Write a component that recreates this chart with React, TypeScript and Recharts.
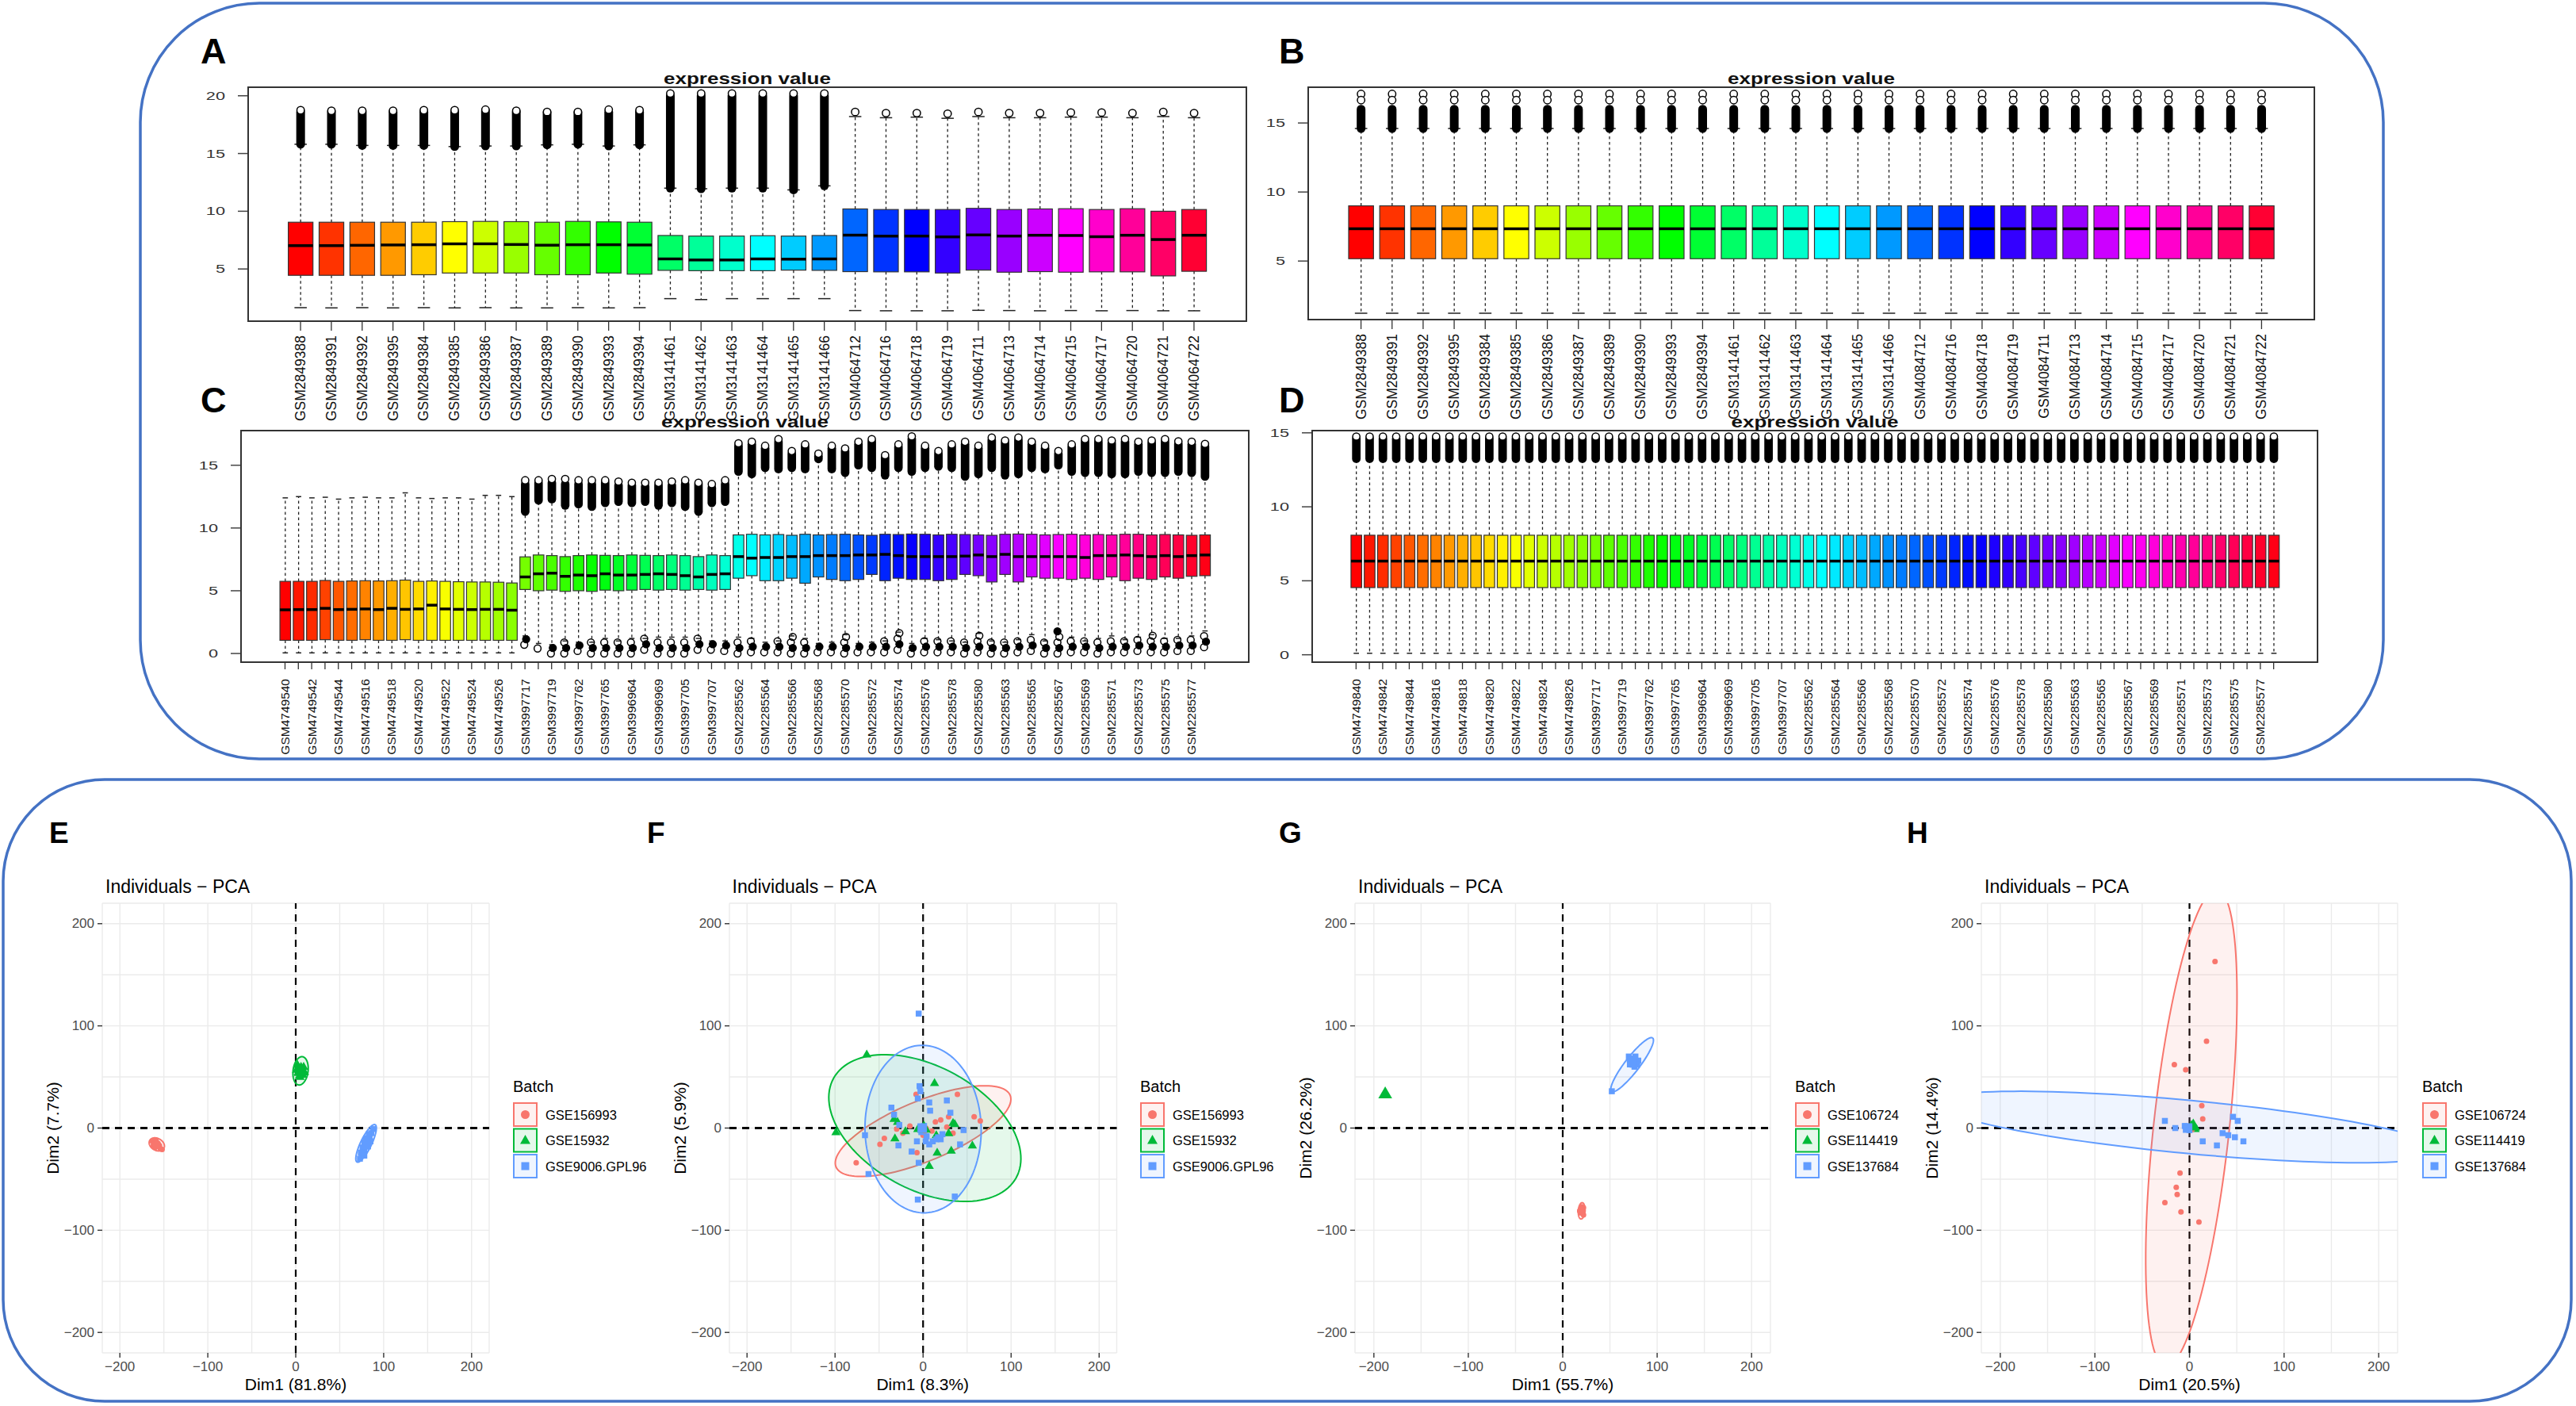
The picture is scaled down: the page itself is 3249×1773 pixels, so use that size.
import React from 'react';
import {
  ComposedChart,
  Bar,
  XAxis,
  YAxis,
  ScatterChart,
  Scatter,
  CartesianGrid,
  ReferenceLine,
} from 'recharts';

const FONT = '"Liberation Sans", Arial, Helvetica, sans-serif';
const BORDER = '#4472C4';
const RED = '#F8766D';
const GREEN = '#00BA38';
const BLUE = '#619CFF';

// ---------------- panel A (raw expression, 30 samples) ----------------
const aNames = [
  'GSM2849388', 'GSM2849391', 'GSM2849392', 'GSM2849395', 'GSM2849384', 'GSM2849385',
  'GSM2849386', 'GSM2849387', 'GSM2849389', 'GSM2849390', 'GSM2849393', 'GSM2849394',
  'GSM3141461', 'GSM3141462', 'GSM3141463', 'GSM3141464', 'GSM3141465', 'GSM3141466',
  'GSM4064712', 'GSM4064716', 'GSM4064718', 'GSM4064719', 'GSM4064711', 'GSM4064713',
  'GSM4064714', 'GSM4064715', 'GSM4064717', 'GSM4064720', 'GSM4064721', 'GSM4064722',
];
const aLo = [1.65, 1.63, 1.65, 1.63, 1.65, 1.63, 1.65, 1.63, 1.63, 1.65, 1.63, 1.65,
  2.43, 2.35, 2.43, 2.43, 2.43, 2.43,
  1.4, 1.38, 1.38, 1.38, 1.42, 1.4, 1.38, 1.4, 1.38, 1.4, 1.38, 1.38];
const aQ1 = [4.45, 4.45, 4.45, 4.45, 4.5, 4.65, 4.65, 4.65, 4.5, 4.5, 4.65, 4.55,
  4.88, 4.85, 4.85, 4.85, 4.9, 4.88,
  4.77, 4.75, 4.75, 4.65, 4.9, 4.72, 4.77, 4.72, 4.75, 4.75, 4.4, 4.8];
const aMed = [7.02, 7.02, 7.05, 7.08, 7.1, 7.18, 7.18, 7.12, 7.06, 7.1, 7.1, 7.08,
  5.87, 5.78, 5.78, 5.87, 5.85, 5.87,
  7.93, 7.85, 7.85, 7.78, 7.95, 7.85, 7.92, 7.9, 7.8, 7.92, 7.55, 7.92];
const aQ3 = [9.05, 9.05, 9.05, 9.05, 9.05, 9.1, 9.12, 9.1, 9.05, 9.12, 9.08, 9.05,
  7.9, 7.85, 7.85, 7.88, 7.85, 7.9,
  10.2, 10.15, 10.15, 10.15, 10.25, 10.15, 10.2, 10.22, 10.15, 10.22, 10.0, 10.15];
const aHi = [15.8, 15.8, 15.7, 15.7, 15.7, 15.6, 15.65, 15.65, 15.75, 15.8, 15.65, 15.75,
  12.0, 11.95, 12.0, 12.0, 11.85, 12.2,
  18.2, 18.1, 18.15, 18.05, 18.2, 18.1, 18.1, 18.15, 18.15, 18.1, 18.2, 18.1];
const aSolid = [18.6, 18.6, 18.6, 18.6, 18.6, 18.6, 18.7, 18.6, 18.55, 18.55, 18.6, 18.6,
  20.0, 20.0, 20.0, 20.0, 20.0, 20.0,
  18.2, 18.1, 18.15, 18.05, 18.2, 18.1, 18.1, 18.15, 18.15, 18.1, 18.2, 18.1];
const aTop = [18.75, 18.7, 18.7, 18.7, 18.75, 18.75, 18.8, 18.7, 18.6, 18.6, 18.8, 18.75,
  20.2, 20.2, 20.2, 20.2, 20.2, 20.2,
  18.6, 18.5, 18.5, 18.45, 18.6, 18.5, 18.5, 18.55, 18.55, 18.5, 18.6, 18.5];

// ---------------- panel B (normalised, every sample identical) ----------------
const bNames = aNames.map((n) => n.replace('GSM4064', 'GSM4084'));
const bLo = 1.22;
const bQ1 = 5.17;
const bMed = 7.34;
const bQ3 = 9.0;
const bHi = 14.6;
const bSolid = 16.0;
const bTop = 17.1;

// ---------------- panel C (raw expression, 70 samples) ----------------
const cNames = [
  'GSM4749540', 'GSM4749541', 'GSM4749542', 'GSM4749543', 'GSM4749544', 'GSM4749545',
  'GSM4749516', 'GSM4749517', 'GSM4749518', 'GSM4749519', 'GSM4749520', 'GSM4749521',
  'GSM4749522', 'GSM4749523', 'GSM4749524', 'GSM4749525', 'GSM4749526', 'GSM4749527',
  'GSM3997717', 'GSM3997718', 'GSM3997719', 'GSM3997720', 'GSM3997762', 'GSM3997763',
  'GSM3997765', 'GSM3997766', 'GSM3996964', 'GSM3996965', 'GSM3996969', 'GSM3996970',
  'GSM3997705', 'GSM3997706', 'GSM3997707', 'GSM3997708',
  'GSM2285562', 'GSM2285581', 'GSM2285564', 'GSM2285582', 'GSM2285566', 'GSM2285583',
  'GSM2285568', 'GSM2285584', 'GSM2285570', 'GSM2285585', 'GSM2285572', 'GSM2285586',
  'GSM2285574', 'GSM2285587', 'GSM2285576', 'GSM2285588', 'GSM2285578', 'GSM2285589',
  'GSM2285580', 'GSM2285590', 'GSM2285563', 'GSM2285591', 'GSM2285565', 'GSM2285592',
  'GSM2285567', 'GSM2285593', 'GSM2285569', 'GSM2285594', 'GSM2285571', 'GSM2285595',
  'GSM2285573', 'GSM2285596', 'GSM2285575', 'GSM2285597', 'GSM2285577', 'GSM2285598',
];
const cQ1 = [
  1.05, 1.05, 1.05, 1.1, 1.05, 1.05, 1.1, 1.05, 1.05, 1.1, 1.05, 1.05, 1.05, 1.05, 1.05, 1.05, 1.05, 1.05,
  5.1, 5.0, 5.05, 4.95, 5.0, 4.95, 5.05, 5.0, 5.05, 5.1, 5.05, 5.1, 5.05, 5.1, 5.05, 5.1,
  6.0, 6.2, 5.8, 5.8, 6.0, 5.6, 6.1, 5.9, 5.8, 5.9, 6.3, 5.8, 6.0, 5.9, 5.9, 5.8, 5.9, 6.3,
  6.2, 5.7, 6.3, 5.7, 6.1, 6.0, 6.0, 5.9, 6.0, 5.9, 6.1, 5.8, 6.0, 5.9, 6.1, 6.0, 6.15, 6.2,
];
const cMed = [
  3.48, 3.5, 3.5, 3.6, 3.5, 3.52, 3.55, 3.5, 3.6, 3.52, 3.55, 3.85, 3.55, 3.52, 3.5, 3.52, 3.52, 3.45,
  6.1, 6.35, 6.4, 6.15, 6.25, 6.2, 6.35, 6.25, 6.25, 6.3, 6.35, 6.3, 6.2, 6.1, 6.3, 6.35,
  7.72, 7.6, 7.65, 7.65, 7.72, 7.72, 7.8, 7.8, 7.8, 7.85, 7.85, 7.9, 7.8, 7.72, 7.72, 7.72, 7.72, 7.76,
  7.85, 7.72, 7.9, 7.72, 7.72, 7.72, 7.72, 7.72, 7.65, 7.8, 7.8, 7.85, 7.8, 7.72, 7.8, 7.72, 7.8, 7.85,
];
const cQ3 = [
  5.75, 5.75, 5.75, 5.82, 5.75, 5.78, 5.8, 5.78, 5.8, 5.85, 5.75, 5.78, 5.75, 5.72, 5.7, 5.7, 5.68, 5.62,
  7.7, 7.85, 7.8, 7.72, 7.8, 7.85, 7.82, 7.8, 7.85, 7.82, 7.8, 7.85, 7.8, 7.72, 7.85, 7.8,
  9.45, 9.5, 9.45, 9.48, 9.42, 9.5, 9.45, 9.48, 9.5, 9.45, 9.42, 9.5, 9.48, 9.52, 9.5, 9.45, 9.5, 9.48,
  9.45, 9.42, 9.5, 9.52, 9.5, 9.45, 9.48, 9.5, 9.45, 9.48, 9.45, 9.5, 9.5, 9.45, 9.48, 9.45, 9.42, 9.45,
];
const cLo = [
  0.05, 0.05, 0.05, 0.05, 0.05, 0.05, 0.05, 0.05, 0.05, 0.05, 0.05, 0.05, 0.05, 0.05, 0.05, 0.05, 0.05, 0.05,
  1.4, 0.8, 0.7, 1.0, 0.9, 0.9, 1.2, 1.0, 1.2, 1.2, 1.3, 1.3, 1.3, 1.2, 1.0, 1.0,
  1.3, 1.2, 0.9, 1.0, 1.4, 1.2, 0.8, 0.9, 1.5, 0.8, 0.9, 1.0, 1.7, 0.8, 1.2, 1.1, 1.0, 0.9,
  1.6, 1.0, 0.9, 1.1, 1.5, 1.0, 1.8, 1.3, 1.0, 1.2, 1.4, 1.1, 1.3, 1.5, 1.2, 1.2, 1.4, 1.8,
];
const cBot = [
  0.05, 0.05, 0.05, 0.05, 0.05, 0.05, 0.05, 0.05, 0.05, 0.05, 0.05, 0.05, 0.05, 0.05, 0.05, 0.05, 0.05, 0.05,
  0.7, 0.4, 0.0, 0.0, 0.2, 0.0, 0.0, 0.0, 0.0, 0.3, 0.0, 0.0, 0.0, 0.3, 0.3, 0.2,
  0.0, 0.1, 0.1, 0.1, 0.0, 0.0, 0.1, 0.1, 0.0, 0.1, 0.1, 0.1, 0.3, 0.0, 0.1, 0.1, 0.1, 0.0,
  0.1, 0.0, 0.0, 0.1, 0.2, 0.0, 0.0, 0.1, 0.1, 0.0, 0.1, 0.1, 0.2, 0.1, 0.1, 0.2, 0.2, 0.5,
];
const cHi = [
  12.4, 12.5, 12.4, 12.45, 12.3, 12.4, 12.45, 12.4, 12.4, 12.8, 12.4, 12.35, 12.4, 12.4, 12.3, 12.6, 12.6, 12.5,
  11.3, 12.2, 12.3, 11.8, 11.9, 11.7, 12.0, 12.1, 12.0, 12.1, 11.8, 12.0, 11.7, 11.3, 12.0, 12.1,
  14.5, 14.3, 14.8, 14.7, 14.8, 14.7, 15.5, 14.7, 14.4, 15.0, 14.8, 14.2, 14.8, 14.5, 14.8, 14.9, 14.8, 14.1,
  14.3, 14.8, 14.2, 14.3, 14.8, 14.7, 15.0, 14.5, 14.4, 14.4, 14.3, 14.3, 14.5, 14.4, 14.4, 14.5, 14.4, 14.1,
];
const cSolid = [
  12.4, 12.5, 12.4, 12.45, 12.3, 12.4, 12.45, 12.4, 12.4, 12.8, 12.4, 12.35, 12.4, 12.4, 12.3, 12.6, 12.6, 12.5,
  13.5, 13.6, 13.6, 13.5, 13.5, 13.5, 13.6, 13.4, 13.4, 13.3, 13.4, 13.4, 13.5, 13.5, 13.2, 13.5,
  16.55, 16.67, 16.35, 16.88, 15.93, 16.46, 15.72, 16.35, 16.14, 16.67, 16.88, 15.6, 16.46, 17.1, 16.35, 15.93, 16.46, 16.67,
  16.35, 17.0, 16.77, 17.0, 16.67, 16.35, 15.93, 16.46, 16.88, 16.88, 16.77, 16.88, 16.67, 16.77, 16.88, 16.7, 16.67, 16.5,
];
const cTop = [
  12.4, 12.5, 12.4, 12.45, 12.3, 12.4, 12.45, 12.4, 12.4, 12.8, 12.4, 12.35, 12.4, 12.4, 12.3, 12.6, 12.6, 12.5,
  13.8, 13.8, 13.9, 13.9, 13.8, 13.8, 13.8, 13.7, 13.6, 13.6, 13.6, 13.7, 13.8, 13.6, 13.5, 13.8,
  16.75, 16.87, 16.55, 17.08, 16.13, 16.66, 15.92, 16.55, 16.34, 16.87, 17.08, 15.8, 16.66, 17.3, 16.55, 16.13, 16.66, 16.87,
  16.55, 17.2, 16.97, 17.2, 16.87, 16.55, 16.13, 16.66, 17.08, 17.08, 16.97, 17.08, 16.87, 16.97, 17.08, 16.9, 16.87, 16.7,
];

// ---------------- panel D (normalised, every sample identical) ----------------
const dNames = [
  'GSM4749840', 'GSM4749841', 'GSM4749842', 'GSM4749843', 'GSM4749844', 'GSM4749845',
  'GSM4749816', 'GSM4749817', 'GSM4749818', 'GSM4749819', 'GSM4749820', 'GSM4749821',
  'GSM4749822', 'GSM4749823', 'GSM4749824', 'GSM4749825', 'GSM4749826', 'GSM4749827',
  ...cNames.slice(18),
];
const dLo = 0.1;
const dQ1 = 4.54;
const dMed = 6.33;
const dQ3 = 8.08;
const dHi = 13.25;
const dSolid = 14.6;
const dTop = 14.75;

// ---------------- PCA panels E-H ----------------
type XY = [number, number];
type Ell = { cx: number; cy: number; a: number; b: number; angle: number; color: string };

const eRed: XY[] = [[-163, -13], [-161, -15], [-159, -14], [-158, -17], [-156, -18], [-162, -17], [-160, -19], [-157, -15], [-154, -20], [-159, -12], [-155, -17], [-152, -21]];
const eGreen: XY[] = [[2, 62], [4, 58], [6, 55], [8, 52], [5, 50], [3, 54], [7, 57], [9, 60], [1, 57], [6, 60], [4, 51], [10, 55]];
const eBlue: XY[] = [[88, -1], [86, -5], [84, -9], [83, -12], [81, -15], [80, -18], [78, -21], [77, -24], [75, -27], [73, -30], [82, -18], [79, -14], [76, -19], [85, -13], [78, -27], [74, -24], [80, -10], [83, -6]];
const eMeans: XY[] = [[-158, -16], [5.5, 56], [80, -16]];
const eEllipses: Ell[] = [
  { cx: -158, cy: -16, a: 9, b: 6, angle: -20, color: RED },
  { cx: 5.5, cy: 56, a: 14, b: 8.5, angle: 80, color: GREEN },
  { cx: 80, cy: -15, a: 21, b: 6, angle: 60, color: BLUE },
];

const fRed: XY[] = [[-8, 33], [39, 33], [58, 11], [65, 7], [20, 8], [14, 6], [29, 11], [-44, -10], [-49, -16], [-23, -5], [-76, -34], [-7, -24], [0, -7], [34, -5], [27, 1], [-30, -1], [10, -3], [-15, 2]];
const fGreen: XY[] = [[-64, 72], [13, 44], [-99, -4], [-33, 9], [-29, 6], [-32, -10], [34, 5], [36, 4], [29, -5], [16, -24], [32, -22], [56, -17], [7, -37], [-6, -1], [15, -7], [-20, -3]];
const fBlue: XY[] = [[-5, 112], [-4, 41], [-3, 36], [-6, 29], [7, 25], [8, 17], [27, 27], [31, 15], [-36, 20], [-33, 13], [-27, 3], [-66, -7], [-28, -17], [3, -13], [7, -16], [11, -13], [17, -9], [22, -6], [20, -11], [15, -11], [-13, -23], [-5, -34], [-6, -70], [36, -67], [-62, -45], [46, -2], [42, -16], [-7, -13], [-2, -4], [4, -8], [1, 2]];
const fMeans: XY[] = [[2, -1], [1, 0], [-1, 0]];
const fEllipses: Ell[] = [
  { cx: 0, cy: -3, a: 105, b: 30, angle: 19, color: RED },
  { cx: 2, cy: 0, a: 115, b: 62, angle: -22, color: GREEN },
  { cx: 0, cy: -1, a: 82, b: 66, angle: 92, color: BLUE },
];

const gRed: XY[] = [[20, -77], [21, -80], [19, -83], [22, -85], [20, -79], [21, -82], [18, -81], [22, -78]];
const gGreen: XY[] = [[-188, 34], [-188, 33]];
const gBlue: XY[] = [[72, 66], [75, 68], [78, 64], [74, 62], [70, 70], [77, 70], [80, 66], [73, 64], [52, 36], [76, 60], [79, 62], [71, 67]];
const gMeans: XY[] = [[20, -81], [-188, 33.5], [73, 64]];
const gEllipses: Ell[] = [
  { cx: 20, cy: -81, a: 8, b: 3.5, angle: 85, color: RED },
  { cx: 73.5, cy: 62, a: 34, b: 7.5, angle: 50, color: BLUE },
];

const hRed: XY[] = [[27, 163], [18, 85], [-16, 62], [-4, 57], [13, 22], [14, 9], [-10, -44], [-14, -58], [-13, -65], [-26, -73], [-9, -82], [10, -92]];
const hGreen: XY[] = [[2, 3], [4, 1], [6, -1], [3, 0], [5, 2]];
const hBlue: XY[] = [[-26, 7], [-15, 0], [-3, 0], [0, -2], [2, 1], [14, -13], [29, -17], [46, 11], [51, 7], [35, -5], [41, -7], [48, -9], [57, -13], [-5, 2], [1, -1]];
const hMeans: XY[] = [[2, 0], [4, 2], [-2, 0]];
const hEllipses: Ell[] = [
  { cx: 2, cy: 0, a: 235, b: 40, angle: 83.3, color: RED },
  { cx: 4, cy: 1, a: 4, b: 3, angle: 0, color: GREEN },
  { cx: 0, cy: 1, a: 270, b: 26, angle: -5, color: BLUE },
];

const legendEF = ['GSE156993', 'GSE15932', 'GSE9006.GPL96'];
const legendGH = ['GSE106724', 'GSE114419', 'GSE137684'];
const GRID_TICKS = [-200, -150, -100, -50, 0, 50, 100, 150, 200];

// ---------------- helpers ----------------
function hsvHex(h: number) {
  const i = Math.floor(h * 6);
  const f = h * 6 - i;
  const q = 1 - f;
  let r = 0, g = 0, b = 0;
  switch (i % 6) {
    case 0: r = 1; g = f; b = 0; break;
    case 1: r = q; g = 1; b = 0; break;
    case 2: r = 0; g = 1; b = f; break;
    case 3: r = 0; g = q; b = 1; break;
    case 4: r = f; g = 0; b = 1; break;
    default: r = 1; g = 0; b = q;
  }
  const hx = (v: number) => Math.round(v * 255).toString(16).padStart(2, '0');
  return `#${hx(r)}${hx(g)}${hx(b)}`;
}
// R's rainbow(n)
const rainbow = (n: number) => Array.from({ length: n }, (_, i) => hsvHex(i / n));

type Stat = number | number[];
const pick = (s: Stat, i: number) => (Array.isArray(s) ? s[i] : s);

type BoxRow = {
  name: string; lo: number; q1: number; med: number; q3: number;
  hi: number; solid: number; top: number; bot: number; color: string; box: [number, number];
};

function buildRows(names: string[], s: { lo: Stat; q1: Stat; med: Stat; q3: Stat; hi: Stat; solid: Stat; top: Stat; bot?: Stat }): BoxRow[] {
  const cols = rainbow(names.length);
  return names.map((name, i) => {
    const lo = pick(s.lo, i);
    const q1 = pick(s.q1, i);
    const q3 = pick(s.q3, i);
    return {
      name, lo, q1, q3,
      med: pick(s.med, i),
      hi: pick(s.hi, i),
      solid: pick(s.solid, i),
      top: pick(s.top, i),
      bot: s.bot === undefined ? lo : pick(s.bot, i),
      color: cols[i],
      box: [q1, q3],
    };
  });
}

const aRows = buildRows(aNames, { lo: aLo, q1: aQ1, med: aMed, q3: aQ3, hi: aHi, solid: aSolid, top: aTop });
const bRows = buildRows(bNames, { lo: bLo, q1: bQ1, med: bMed, q3: bQ3, hi: bHi, solid: bSolid, top: bTop });
const cRows = buildRows(cNames, { lo: cLo, q1: cQ1, med: cMed, q3: cQ3, hi: cHi, solid: cSolid, top: cTop, bot: cBot });
const dRows = buildRows(dNames, { lo: dLo, q1: dQ1, med: dMed, q3: dQ3, hi: dHi, solid: dSolid, top: dTop });

// box drawn from the bar rectangle [q1, q3]; other stats use the same scale
const BoxShape = (props: any) => {
  const { x, y, width, height, payload } = props;
  const d = payload as BoxRow;
  if (!d || !Number.isFinite(y) || !(height > 0)) return <g />;
  const k = height / (d.q3 - d.q1);
  const Y = (v: number) => y + (d.q3 - v) * k;
  const cx = x + width / 2;
  const cap = width * 0.25;
  const r = Math.min(5.5, width * 0.4);
  const yHi = Y(d.hi);
  const yLo = Y(d.lo);
  const ySolid = Y(d.solid);
  const yTop = Y(d.top);
  const yBot = Y(d.bot);
  const upper: React.ReactNode[] = [];
  if (d.top > d.solid) {
    const step = r * 1.4;
    const cnt = Math.max(1, Math.floor((ySolid - yTop) / step));
    for (let j = 0; j < cnt; j++) {
      upper.push(<circle key={`u${j}`} cx={cx} cy={yTop + j * step} r={r - 0.8} fill="#fff" stroke="#000" strokeWidth={1.5} />);
    }
  }
  const lower: React.ReactNode[] = [];
  if (d.bot < d.lo) {
    const step = r * 1.3;
    const cnt = Math.floor((yBot - yLo) / step) + 1;
    for (let j = 0; j < cnt; j++) {
      lower.push(<circle key={`l${j}`} cx={cx + (j % 2 ? 1.2 : -1.2)} cy={yBot - j * step} r={r - 1} fill={j % 3 === 1 ? '#000' : 'none'} stroke="#000" strokeWidth={1.5} />);
    }
  }
  return (
    <g>
      <line x1={cx} x2={cx} y1={y} y2={yHi} stroke="#222" strokeWidth={1.3} strokeDasharray="3.5 3.5" />
      <line x1={cx} x2={cx} y1={y + height} y2={yLo} stroke="#222" strokeWidth={1.3} strokeDasharray="3.5 3.5" />
      <line x1={cx - cap} x2={cx + cap} y1={yHi} y2={yHi} stroke="#222" strokeWidth={1.5} />
      <line x1={cx - cap} x2={cx + cap} y1={yLo} y2={yLo} stroke="#222" strokeWidth={1.5} />
      <rect x={x} y={y} width={width} height={height} fill={d.color} stroke="#333" strokeWidth={1.2} />
      <line x1={x} x2={x + width} y1={Y(d.med)} y2={Y(d.med)} stroke="#000" strokeWidth={3.5} />
      {d.solid > d.hi && (
        <rect x={cx - r} y={ySolid - r} width={2 * r} height={yHi - ySolid + 2 * r} rx={r} fill="#000" />
      )}
      {upper}
      {lower}
    </g>
  );
};

const BoxYTick = (props: any) => {
  const { x, y, payload } = props;
  return (
    <text transform={`translate(${x},${y}) scale(1.55,1)`} textAnchor="end" dominantBaseline="central"
      fontSize={14} fill="#333" fontFamily={FONT}>
      {payload.value}
    </text>
  );
};

const BoxXTick = (props: any) => {
  const { x, y, payload, index, every, tickLen, gap, fs } = props;
  return (
    <g>
      <line x1={x} x2={x} y1={y} y2={y + tickLen} stroke="#333" strokeWidth={1.3} />
      {index % every === 0 && (
        <text transform={`translate(${x},${y + gap}) rotate(-90)`} textAnchor="end" dominantBaseline="central"
          fontSize={fs} fill="#111" fontFamily={FONT}>
          {payload.value}
        </text>
      )}
    </g>
  );
};

type Frame = [number, number, number, number];

const BoxPanel = ({ rows, frame, box, yDomain, yTicks, every, gap, tickLen, fs }: {
  rows: BoxRow[]; frame: Frame; box: Frame; yDomain: [number, number]; yTicks: number[];
  every: number; gap: number; tickLen: number; fs: number;
}) => {
  const [fl, ft, fr, fb] = frame;
  const [cl, ct, cw, ch] = box;
  const n = rows.length;
  const unit = (fr - fl) / (1.08 * n);
  const pad = 0.04 * n * unit;
  return (
    <div style={{ position: 'absolute', left: cl, top: ct }}>
      <ComposedChart width={cw} height={ch} data={rows}
        margin={{ top: ft - ct, right: cl + cw - fr, bottom: 0, left: 0 }}>
        <XAxis dataKey="name" type="category" interval={0} height={ct + ch - fb}
          padding={{ left: pad, right: pad }} axisLine={false} tickLine={false} tickSize={0} tickMargin={0}
          tick={<BoxXTick every={every} tickLen={tickLen} gap={gap} fs={fs} />} />
        <YAxis type="number" domain={yDomain} ticks={yTicks} allowDataOverflow width={fl - cl}
          axisLine={false} tickSize={13} tickMargin={16} tickLine={{ stroke: '#444', strokeWidth: 1.5 }}
          tick={<BoxYTick />} />
        <Bar dataKey="box" barSize={unit * 0.8} shape={BoxShape} isAnimationActive={false} />
      </ComposedChart>
    </div>
  );
};

// ---------------- PCA ----------------
function ellipseOutline(e: Ell) {
  const t = (e.angle * Math.PI) / 180;
  const pts: { x: number; y: number }[] = [];
  for (let k = 0; k <= 120; k++) {
    const u = (k / 120) * 2 * Math.PI;
    pts.push({
      x: e.cx + e.a * Math.cos(u) * Math.cos(t) - e.b * Math.sin(u) * Math.sin(t),
      y: e.cy + e.a * Math.cos(u) * Math.sin(t) + e.b * Math.sin(u) * Math.cos(t),
    });
  }
  return pts;
}

const toPts = (arr: XY[]) => arr.map(([x, y]) => ({ x, y }));
const NoDot = () => <g />;

type Kind = 'circle' | 'triangle' | 'square';
const mark = (color: string, kind: Kind, s: number) => (p: any) => {
  const { cx, cy } = p;
  if (!Number.isFinite(cx) || !Number.isFinite(cy)) return <g />;
  if (kind === 'circle') return <circle cx={cx} cy={cy} r={s / 2} fill={color} />;
  if (kind === 'square') return <rect x={cx - s / 2} y={cy - s / 2} width={s} height={s} fill={color} />;
  return <polygon points={`${cx},${cy - s * 0.62} ${cx - s * 0.58},${cy + s * 0.38} ${cx + s * 0.58},${cy + s * 0.38}`} fill={color} />;
};

const fmt = (v: number) => (v < 0 ? `\u2212${Math.abs(v)}` : `${v}`);

const PcaXTick = (props: any) => {
  const { x, y, payload } = props;
  if (payload.value % 100 !== 0) return <g />;
  return (
    <g>
      <line x1={x} x2={x} y1={y} y2={y + 6} stroke="#333" strokeWidth={1.4} />
      <text x={x} y={y + 17} textAnchor="middle" dominantBaseline="central" fontSize={17} fill="#4D4D4D" fontFamily={FONT}>
        {fmt(payload.value)}
      </text>
    </g>
  );
};

const PcaYTick = (props: any) => {
  const { x, y, payload } = props;
  if (payload.value % 100 !== 0) return <g />;
  return (
    <g>
      <line x1={x - 6} x2={x} y1={y} y2={y} stroke="#333" strokeWidth={1.4} />
      <text x={x - 10} y={y} textAnchor="end" dominantBaseline="central" fontSize={17} fill="#4D4D4D" fontFamily={FONT}>
        {fmt(payload.value)}
      </text>
    </g>
  );
};

const PT = 1139;
const PB = 1706;

const PcaPanel = ({ pl, pr, red, green, blue, means, ellipses }: {
  pl: number; pr: number; red: XY[]; green: XY[]; blue: XY[]; means: XY[]; ellipses: Ell[];
}) => {
  const cl = pl - 110;
  const ct = PT - 10;
  const cw = pr + 10 - cl;
  const ch = PB + 62 - ct;
  return (
    <div style={{ position: 'absolute', left: cl, top: ct }}>
      <ScatterChart width={cw} height={ch} margin={{ top: 10, right: 10, bottom: 0, left: 0 }}>
        <CartesianGrid stroke="#EBEBEB" strokeWidth={1.4} />
        <XAxis type="number" dataKey="x" domain={[-220, 220]} ticks={GRID_TICKS} interval={0} allowDataOverflow
          height={62} axisLine={false} tickLine={false} tickSize={0} tickMargin={0} tick={<PcaXTick />} />
        <YAxis type="number" dataKey="y" domain={[-220, 220]} ticks={GRID_TICKS} interval={0} allowDataOverflow
          width={110} axisLine={false} tickLine={false} tickSize={0} tickMargin={0} tick={<PcaYTick />} />
        {ellipses.map((e, i) => (
          <Scatter key={`ell${i}`} data={ellipseOutline(e)} shape={NoDot} lineType="joint"
            line={{ stroke: e.color, strokeWidth: 2, fill: e.color, fillOpacity: 0.1 }}
            isAnimationActive={false} />
        ))}
        <ReferenceLine y={0} stroke="#000" strokeWidth={2.8} strokeDasharray="9 7" />
        <ReferenceLine x={0} stroke="#000" strokeWidth={2.2} strokeDasharray="9 7" />
        <Scatter data={toPts(red)} shape={mark(RED, 'circle', 7)} isAnimationActive={false} />
        <Scatter data={toPts(green)} shape={mark(GREEN, 'triangle', 10)} isAnimationActive={false} />
        <Scatter data={toPts(blue)} shape={mark(BLUE, 'square', 7.5)} isAnimationActive={false} />
        <Scatter data={toPts([means[0]])} shape={mark(RED, 'circle', 11)} isAnimationActive={false} />
        <Scatter data={toPts([means[1]])} shape={mark(GREEN, 'triangle', 15)} isAnimationActive={false} />
        <Scatter data={toPts([means[2]])} shape={mark(BLUE, 'square', 12)} isAnimationActive={false} />
      </ScatterChart>
    </div>
  );
};

const LegendSvg = ({ x0, labels }: { x0: number; labels: string[] }) => {
  const cols = [RED, GREEN, BLUE];
  return (
    <g fontFamily={FONT}>
      <text x={x0} y={1377} fontSize={20} fill="#000">Batch</text>
      {labels.map((lab, i) => {
        const top = 1391 + i * 32.5;
        const cx = x0 + 15.5;
        const cy = top + 14.5;
        return (
          <g key={lab}>
            <rect x={x0 + 1} y={top} width={29} height={29} fill={cols[i]} fillOpacity={0.1} stroke={cols[i]} strokeWidth={2} />
            {i === 0 && <circle cx={cx} cy={cy} r={5.5} fill={cols[i]} />}
            {i === 1 && <polygon points={`${cx},${cy - 7} ${cx - 6.5},${cy + 4.5} ${cx + 6.5},${cy + 4.5}`} fill={cols[i]} />}
            {i === 2 && <rect x={cx - 5} y={cy - 5} width={10} height={10} fill={cols[i]} />}
            <text x={x0 + 41} y={cy} dominantBaseline="central" fontSize={16.5} fill="#000">{lab}</text>
          </g>
        );
      })}
    </g>
  );
};

const pcaLayout = [
  { pl: 129, pr: 617, yt: 66.7, lx: 647, xTitle: 'Dim1 (81.8%)', yTitle: 'Dim2 (7.7%)', leg: legendEF, letter: 'E', lxl: 62 },
  { pl: 919.5, pr: 1408, yt: 857, lx: 1438, xTitle: 'Dim1 (8.3%)', yTitle: 'Dim2 (5.9%)', leg: legendEF, letter: 'F', lxl: 816 },
  { pl: 1709, pr: 2233, yt: 1646, lx: 2264, xTitle: 'Dim1 (55.7%)', yTitle: 'Dim2 (26.2%)', leg: legendGH, letter: 'G', lxl: 1613 },
  { pl: 2499, pr: 3024, yt: 2436, lx: 3055, xTitle: 'Dim1 (20.5%)', yTitle: 'Dim2 (14.4%)', leg: legendGH, letter: 'H', lxl: 2405 },
];

const boxFrames: { f: Frame; letter: string; lx: number; ly: number }[] = [
  { f: [313, 110, 1572, 405], letter: 'A', lx: 253, ly: 80 },
  { f: [1650, 110, 2919, 403], letter: 'B', lx: 1613, ly: 80 },
  { f: [304, 543, 1575, 835], letter: 'C', lx: 253, ly: 520 },
  { f: [1655, 543, 2923, 835], letter: 'D', lx: 1613, ly: 520 },
];

export default function App() {
  return (
    <div style={{ position: 'relative', width: 3249, height: 1773, background: '#fff', overflow: 'hidden', fontFamily: FONT }}>
      <style>{'body{margin:0}'}</style>

      <BoxPanel rows={aRows} frame={[313, 110, 1572, 405]} box={[230, 100, 1360, 460]} yDomain={[0.48, 20.74]}
        yTicks={[5, 10, 15, 20]} every={1} gap={18} tickLen={12} fs={17.5} />
      <BoxPanel rows={bRows} frame={[1650, 110, 2919, 403]} box={[1570, 100, 1370, 460]} yDomain={[0.76, 17.59]}
        yTicks={[5, 10, 15]} every={1} gap={18} tickLen={12} fs={17.5} />
      <BoxPanel rows={cRows} frame={[304, 543, 1575, 835]} box={[220, 533, 1375, 430]} yDomain={[-0.69, 17.76]}
        yTicks={[0, 5, 10, 15]} every={2} gap={21} tickLen={9} fs={15.5} />
      <BoxPanel rows={dRows} frame={[1655, 543, 2923, 835]} box={[1570, 533, 1375, 430]} yDomain={[-0.5, 15.15]}
        yTicks={[0, 5, 10, 15]} every={2} gap={21} tickLen={9} fs={15.5} />

      <PcaPanel pl={129} pr={617} red={eRed} green={eGreen} blue={eBlue} means={eMeans} ellipses={eEllipses} />
      <PcaPanel pl={919.5} pr={1408} red={fRed} green={fGreen} blue={fBlue} means={fMeans} ellipses={fEllipses} />
      <PcaPanel pl={1709} pr={2233} red={gRed} green={gGreen} blue={gBlue} means={gMeans} ellipses={gEllipses} />
      <PcaPanel pl={2499} pr={3024} red={hRed} green={hGreen} blue={hBlue} means={hMeans} ellipses={hEllipses} />

      <svg width={3249} height={1773} style={{ position: 'absolute', left: 0, top: 0, pointerEvents: 'none' }} fontFamily={FONT}>
        <rect x={177} y={4} width={2829} height={953} rx={150} fill="none" stroke={BORDER} strokeWidth={3.5} />
        <rect x={4} y={983} width={3239} height={784} rx={128} fill="none" stroke={BORDER} strokeWidth={3.5} />

        {boxFrames.map(({ f, letter, lx, ly }) => (
          <g key={letter}>
            <rect x={f[0]} y={f[1]} width={f[2] - f[0]} height={f[3] - f[1]} fill="none" stroke="#333" strokeWidth={2} />
            <text x={lx} y={ly} fontSize={45} fontWeight="bold" fill="#000">{letter}</text>
            <text transform={`translate(${(f[0] + f[2]) / 2},${f[1] - 4}) scale(1.3,1)`} textAnchor="middle"
              fontSize={20} fontWeight="bold" fill="#111">expression value</text>
          </g>
        ))}

        {pcaLayout.map((p) => (
          <g key={p.letter}>
            <text x={p.lxl} y={1063} fontSize={37} fontWeight="bold" fill="#000">{p.letter}</text>
            <text x={p.pl + 4} y={1126} fontSize={23} fill="#000">Individuals {'\u2212'} PCA</text>
            <text x={(p.pl + p.pr) / 2} y={1745} textAnchor="middle" dominantBaseline="central" fontSize={21} fill="#000">
              {p.xTitle}
            </text>
            <text transform={`translate(${p.yt},1422.5) rotate(-90)`} textAnchor="middle" dominantBaseline="central"
              fontSize={21} fill="#000">
              {p.yTitle}
            </text>
            <LegendSvg x0={p.lx} labels={p.leg} />
          </g>
        ))}
      </svg>
    </div>
  );
}
